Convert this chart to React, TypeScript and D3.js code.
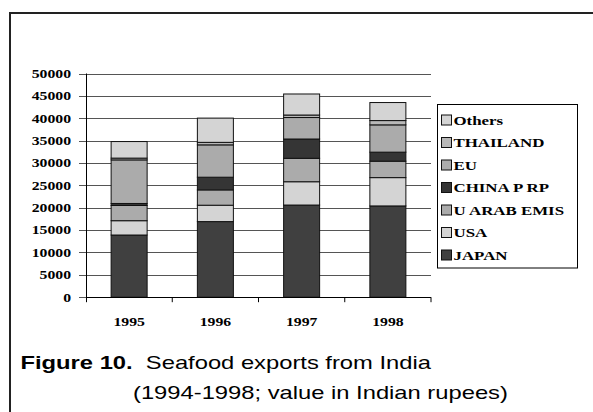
import React from "react";
import * as d3 from "d3";

const years = ["1995", "1996", "1997", "1998"];
const seriesNames = ["JAPAN", "USA", "U ARAB EMIS", "CHINA P RP", "EU", "THAILAND", "Others"];
const japan = [13900, 16900, 20600, 20400];
const usa = [3200, 3660, 5210, 6330];
const uae = [3400, 3420, 5230, 3670];
const china = [450, 2840, 4320, 2020];
const eu = [9740, 7230, 4800, 6100];
const thailand = [400, 560, 560, 960];
const others = [3700, 5420, 4700, 4030];
const yTicks = [0, 5000, 10000, 15000, 20000, 25000, 30000, 35000, 40000, 45000, 50000];
const colors = ["#404040", "#d4d4d4", "#ababab", "#353535", "#ababab", "#b8b8b8", "#d4d4d4"];

const seriesValues = [japan, usa, uae, china, eu, thailand, others];

export default function App() {
  const W = 593, H = 412;
  const left = 86, right = 431, top = 73.5, bottom = 297.2;
  const rows = years.map((y, i) => {
    const r: any = { year: y };
    seriesNames.forEach((s, k) => (r[s] = seriesValues[k][i]));
    return r;
  });
  const stacked = d3.stack().keys(seriesNames)(rows);
  const p = 0.5826;
  const x = d3.scaleBand().domain(years).range([left, right]).paddingInner(p).paddingOuter(p / 2);
  const y = d3.scaleLinear().domain([0, 50000]).range([bottom, top]);
  const step = x.step();
  const sx = "scale(1.25,1)";
  const serif = "'Liberation Serif', 'Times New Roman', serif";
  const sans = "'Liberation Sans', Arial, sans-serif";

  const legendOrder = [...seriesNames].map((n, i) => ({ n, c: colors[i] })).reverse();

  return (
    <svg width={W} height={H} style={{ position: "absolute", left: 0, top: 0, background: "#fff" }}>
      <rect x={0} y={0} width={W} height={H} fill="#fff" />
      {/* frame */}
      <line x1={10} y1={13} x2={W} y2={13} stroke="#222" strokeWidth={2} />
      <line x1={10} y1={12} x2={10} y2={H} stroke="#222" strokeWidth={2} />
      {/* gridlines */}
      {yTicks.map((t) => (
        <g key={t}>
          <line x1={left - 7} x2={right} y1={Math.round(y(t)) + 0.5} y2={Math.round(y(t)) + 0.5} stroke="#555" strokeWidth={1} />
          <text
            transform={`translate(71,${y(t) + 4.3}) ${sx}`}
            textAnchor="end"
            fontFamily={serif}
            fontWeight="bold"
            fontSize={12.6}
            fill="#000"
          >
            {t}
          </text>
        </g>
      ))}
      {/* bars */}
      {stacked.map((s, k) => (
        <g key={s.key}>
          {s.map((d, i) => (
            <rect
              key={i}
              x={x(years[i])!}
              width={x.bandwidth()}
              y={y(d[1])}
              height={y(d[0]) - y(d[1])}
              fill={colors[k]}
              stroke="#111"
              strokeWidth={1}
            />
          ))}
        </g>
      ))}
      {/* axes */}
      <line x1={left + 0.5} x2={left + 0.5} y1={top} y2={bottom + 5} stroke="#000" strokeWidth={1} />
      <line x1={left} x2={right} y1={Math.round(bottom) + 0.5} y2={Math.round(bottom) + 0.5} stroke="#000" strokeWidth={1} />
      {years.map((yr, i) => (
        <line key={yr} x1={left + step * (i + 1)} x2={left + step * (i + 1)} y1={bottom} y2={bottom + 5} stroke="#000" strokeWidth={1} />
      ))}
      {years.map((yr) => (
        <text
          key={yr}
          transform={`translate(${x(yr)! + x.bandwidth() / 2},326) ${sx}`}
          textAnchor="middle"
          fontFamily={serif}
          fontWeight="bold"
          fontSize={12.6}
          fill="#000"
        >
          {yr}
        </text>
      ))}
      {/* legend */}
      <rect x={437.5} y={104.5} width={140} height={163.5} fill="#fff" stroke="#000" strokeWidth={1} />
      {legendOrder.map((e, i) => {
        const cy = 120 + i * 22.5;
        return (
          <g key={e.n}>
            <rect x={441.5} y={cy - 5} width={10} height={10} fill={e.c} stroke="#111" strokeWidth={1} />
            <text
              transform={`translate(453.5,${cy + 4.6}) ${sx}`}
              fontFamily={serif}
              fontWeight="bold"
              fontSize={13.5}
              fill="#000"
            >
              {e.n}
            </text>
          </g>
        );
      })}
      {/* caption */}
      <text transform={`translate(20.5,369) ${sx}`} fontFamily={sans} fontSize={19} fill="#000" xmlSpace="preserve">
        <tspan fontWeight="bold">Figure 10.</tspan>
        <tspan>{"  Seafood exports from India"}</tspan>
      </text>
      <text transform={`translate(133,399) ${sx}`} fontFamily={sans} fontSize={19} fill="#000">
        (1994-1998; value in Indian rupees)
      </text>
    </svg>
  );
}
